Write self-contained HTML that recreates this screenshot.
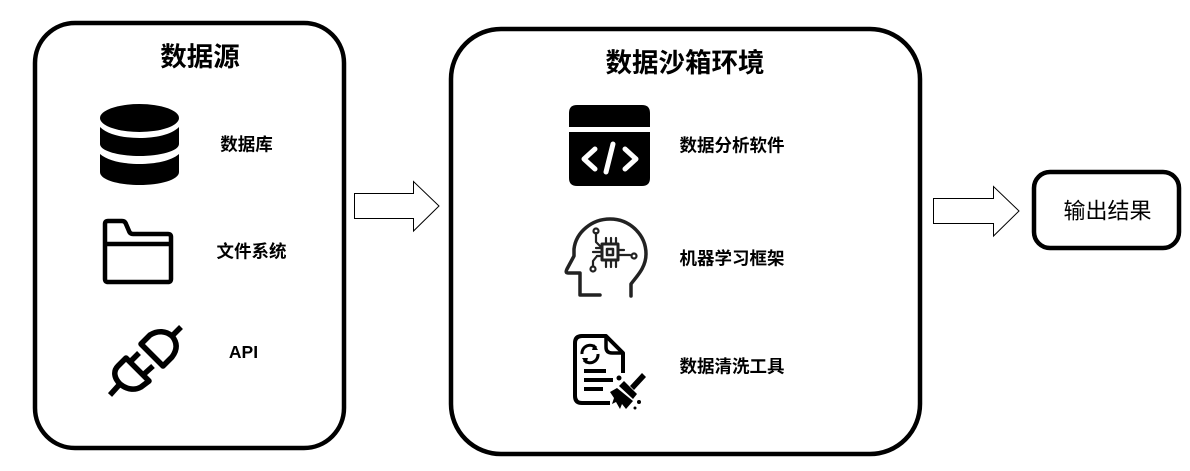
<!DOCTYPE html>
<html><head><meta charset="utf-8"><style>
html,body{margin:0;padding:0;background:#fff;width:1190px;height:471px;overflow:hidden}
svg{display:block}
text{font-family:"DejaVu Sans","Noto Sans CJK SC",sans-serif;fill:#000}
.t{font-weight:700;font-size:26.5px;text-anchor:middle}
.l{font-weight:700;font-size:17.5px;text-anchor:middle}
</style></head><body>
<svg width="1190" height="471" viewBox="0 0 1190 471" xmlns="http://www.w3.org/2000/svg">
<rect width="1190" height="471" fill="#fff"/>
<rect x="35" y="23" width="309" height="425" rx="40" fill="none" stroke="#000" stroke-width="4.5"/>
<rect x="451" y="29" width="469" height="425" rx="50" fill="none" stroke="#000" stroke-width="4.5"/>
<rect x="1034" y="172" width="145" height="76" rx="16" fill="none" stroke="#000" stroke-width="4.5"/>
<polygon points="354.5,193.5 413.5,193.5 413.5,181.5 439,206 413.5,231 413.5,218.5 354.5,218.5" fill="#fff" stroke="#000" stroke-width="1"/>
<polygon points="933.5,198.5 993.5,198.5 993.5,186.5 1019,211 993.5,236 993.5,223.5 933.5,223.5" fill="#fff" stroke="#000" stroke-width="1"/>
<text class="t" x="200" y="66">数据源</text>
<text class="t" x="685" y="72">数据沙箱环境</text>
<text class="l" x="246.5" y="150.500">数据库</text>
<text class="l" x="251.500" y="257.500">文件系统</text>
<text x="243.500" y="358" font-size="17.500" font-weight="700" text-anchor="middle" style="font-family:'Liberation Sans',sans-serif">API</text>
<text class="l" x="732" y="151.500">数据分析软件</text>
<text class="l" x="732" y="264.500">机器学习框架</text>
<text class="l" x="732" y="372.500">数据清洗工具</text>
<text x="1107.500" y="218.500" font-size="22" text-anchor="middle">输出结果</text>
<!-- database -->
<ellipse cx="139.500" cy="118" rx="39.500" ry="14"/>
<path d="M100,127C108,135 124,138 139.500,138C155,138 171,135 179,127V144C179,151 160,156 139.500,156C119,156 100,151 100,144Z"/>
<path d="M100,154C108,161 124,164 139.500,164C155,164 171,161 179,154V172C179,180 160,185 139.500,185C119,185 100,180 100,172Z"/>
<!-- folder -->
<g fill="none" stroke="#000" stroke-width="4.500" stroke-linejoin="round">
<path d="M105,224Q105,221 108,221H122Q125,221 126,224L129,231Q130,234 133,234H168Q171,234 171,237V279Q171,282 168,282H108Q105,282 105,279Z"/>
<path d="M105,244H171"/>
</g>
<!-- plug -->
<g fill="none" stroke="#000" stroke-width="5.500" stroke-linejoin="round" stroke-linecap="butt">
<path d="M141,344L163,366L172,357C178,349 177,342 172,336C166,331 158,330 150,335Z"/>
<path d="M171,337L181,327"/>
<path d="M126,358L149,381L141,387C134,391 126,389 120,384C114,378 113,371 118,366Z"/>
<path d="M119,385L110,395"/>
<path d="M130,362L139,353M143,375L153,366"/>
</g>
<!-- code window -->
<path d="M569,127V113Q569,105 577,105H642Q650,105 650,113V127Z"/>
<path d="M569,132H650V178Q650,186 642,186H577Q569,186 569,178Z"/>
<g fill="none" stroke="#fff" stroke-width="5" stroke-linecap="round" stroke-linejoin="round">
<path d="M595,149L584,159L595,169"/>
<path d="M625,149L636,159L625,169"/>
<path d="M613,144L606,172"/>
</g>
<!-- AI head -->
<g fill="none" stroke="#222" stroke-width="3.500" stroke-linecap="round" stroke-linejoin="round">
<path d="M600,295H580V273H568Q565,273 567,269L574,256V249C576,232 592,219 610,219C630,219 646,235 646,254C646,268 636,277 631,284V296"/>
<rect x="602" y="244" width="16" height="16" stroke-width="3"/>
<rect x="607" y="249" width="6" height="6" stroke-width="2.500"/>
<g stroke-width="2.200">
<path d="M606,244V238M611,244V238M616,244V238M606,260V267M611,260V267M616,260V267M602,248H596M602,252H593M602,256H597M618,250H624M618,255H630"/>
<path d="M602,248L596,242V233"/>
<path d="M597,256L593,261V266"/>
<circle cx="596" cy="231" r="2.500"/>
<circle cx="593" cy="269" r="2.500"/>
<circle cx="634" cy="256" r="2.500"/>
</g>
</g>
<!-- doc + broom -->
<g fill="none" stroke="#000" stroke-linejoin="round">
<path d="M610,403H582Q575,403 575,396V343Q575,336 582,336H606L623,353V373" stroke-width="4"/>
<path d="M606,337V347Q606,353 612,353H622" stroke-width="3.500"/>
<path d="M582,354A8,8 0 0 1 596,348M598,354A8,8 0 0 1 584,360" stroke-width="3"/>
<path d="M584,371H606M584,380H613M584,389H603" stroke-width="4"/>
</g>
<path d="M594,344L598,350L592,350ZM586,364L582,358L588,358Z"/>
<path d="M642,373L646,377L634,390L630,386Z"/>
<path d="M624,381L637,394L633,399L619,386Z"/>
<path d="M610,392L617,388L633,401L626,409L622,404L620,409L616,402L612,404L614,398Z"/>
<circle cx="619" cy="378" r="2.500"/>
<circle cx="639" cy="402" r="2"/>
<circle cx="635" cy="408" r="1.500"/>
</svg>
</body></html>
